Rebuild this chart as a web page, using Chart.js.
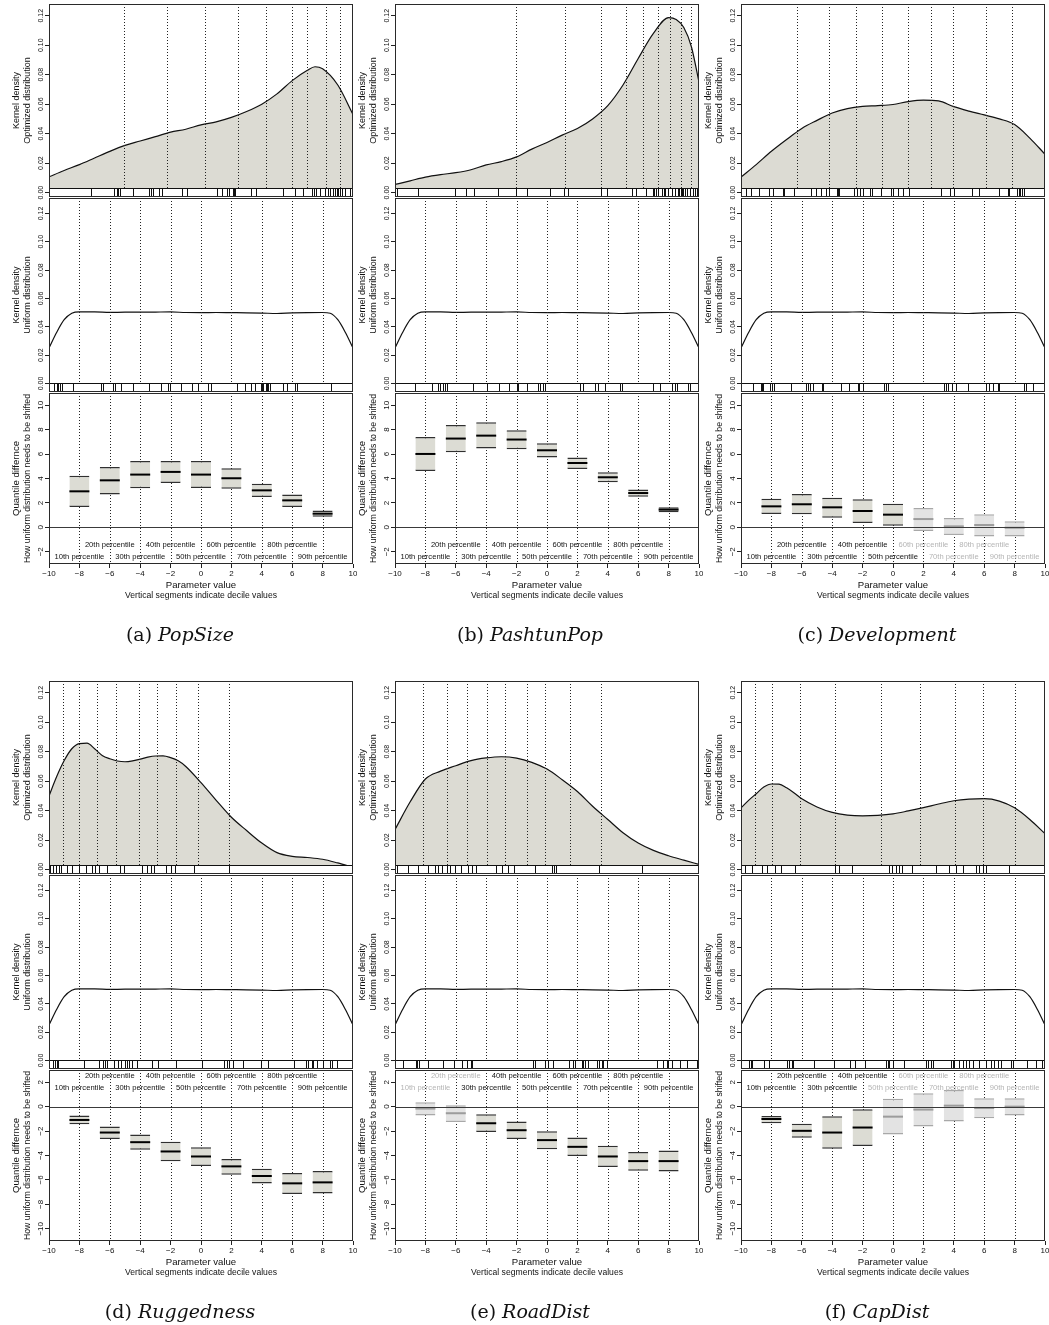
<!DOCTYPE html>
<html>
<head>
<meta charset="utf-8">
<title>Optimized vs uniform parameter distributions</title>
<script src="https://cdn.jsdelivr.net/npm/chart.js@4.4.1/dist/chart.umd.min.js"></script>
<style>
html,body{margin:0;padding:0;background:#fff;}
body{position:relative;width:1049px;height:1325px;overflow:hidden;}
canvas{position:absolute;}
.cap{position:absolute;width:340px;text-align:center;font-family:"DejaVu Serif",serif;font-size:19px;color:#111;line-height:24px;}
.cap i{font-style:italic;}
</style>
</head>
<body>
<script>
// ---------- axis ticks and labels ----------
const X_TICKS = [-10, -8, -6, -4, -2, 0, 2, 4, 6, 8, 10];
const X_TICK_LABELS = ['\u221210', '\u22128', '\u22126', '\u22124', '\u22122', '0', '2', '4', '6', '8', '10'];
const DENSITY_TICKS = [0, 0.02, 0.04, 0.06, 0.08, 0.10, 0.12];
const DENSITY_TICK_LABELS = ['0.00', '0.02', '0.04', '0.06', '0.08', '0.10', '0.12'];
const SHIFT_TICKS_UP = [-2, 0, 2, 4, 6, 8, 10];
const SHIFT_TICK_LABELS_UP = ['\u22122', '0', '2', '4', '6', '8', '10'];
const SHIFT_TICKS_DOWN = [-10, -8, -6, -4, -2, 0, 2];
const SHIFT_TICK_LABELS_DOWN = ['\u221210', '\u22128', '\u22126', '\u22124', '\u22122', '0', '2'];

// deciles of the uniform reference distribution
const UNIFORM_DECILES = [-8, -6, -4, -2, 0, 2, 4, 6, 8];
const PERCENTILE_LABELS = ['10th percentile', '20th percentile', '30th percentile', '40th percentile',
  '50th percentile', '60th percentile', '70th percentile', '80th percentile', '90th percentile'];

// kernel density of the uniform draws
const UNIFORM_DENS_X = [-10, -9.5, -9, -8.5, -8, -7, -6, -5, -4, -3, -2, -1, 0, 1, 2, 3, 4, 5, 6, 7, 8, 8.5, 9, 9.5, 10];
const UNIFORM_DENS_Y = [0.025, 0.036, 0.045, 0.0496, 0.0506, 0.0506, 0.0502, 0.0503, 0.0503, 0.0504, 0.0505, 0.0501,
  0.0500, 0.0501, 0.0500, 0.0499, 0.0497, 0.0494, 0.0498, 0.0500, 0.0501, 0.0496, 0.045, 0.036, 0.025];

// ---------- (a) PopSize ----------
const POPSIZE_DENS_X = [-10, -9, -8, -7, -6, -5, -4, -3, -2, -1, 0, 1, 2, 3, 4, 5, 6, 7, 7.5, 8, 9, 10];
const POPSIZE_DENS_Y = [0.0107, 0.015, 0.019, 0.0235, 0.028, 0.032, 0.035, 0.038, 0.041, 0.043, 0.046, 0.048,
  0.051, 0.055, 0.060, 0.067, 0.076, 0.083, 0.0854, 0.084, 0.073, 0.053];
const POPSIZE_DECILES = [-5.07, -2.26, 0.26, 2.45, 4.26, 5.97, 6.95, 8.20, 9.14];
const POPSIZE_RUG_OPT = [-7.26, -5.70, -5.54, -5.43, -5.33, -4.49, -3.42, -3.29, -3.13, -2.76, -2.58, -1.27, -0.90,
  1.08, 1.36, 1.69, 1.87, 2.13, 2.20, 2.24, 3.29, 3.62, 5.38, 6.19, 6.74, 7.33, 7.44, 7.57, 7.83, 8.16, 8.38, 8.49,
  8.71, 8.82, 8.93, 9.04, 9.15, 9.26, 9.48, 9.81, 9.92];
const POPSIZE_RUG_UNIF = [-9.65, -9.49, -9.38, -9.27, -9.16, -8.44, -6.58, -6.47, -5.76, -5.65, -5.28, -4.49, -3.42,
  -2.63, -2.15, -2.04, -1.33, -0.61, -0.22, 0.44, 0.64, 2.35, 2.90, 3.27, 3.56, 3.95, 4.04, 4.10, 4.26, 4.32, 4.43,
  4.54, 5.42, 5.68, 6.19, 6.30, 8.54, 9.92];
const POPSIZE_LO = [1.67, 2.68, 3.20, 3.63, 3.22, 3.17, 2.49, 1.67, 0.87];
const POPSIZE_MED = [2.95, 3.85, 4.32, 4.54, 4.32, 4.02, 3.03, 2.21, 1.12];
const POPSIZE_HI = [4.23, 4.95, 5.44, 5.44, 5.44, 4.84, 3.58, 2.70, 1.39];
const POPSIZE_FADED = [false, false, false, false, false, false, false, false, false];

// ---------- (b) PashtunPop ----------
const PASHTUNPOP_DENS_X = [-10, -9, -8, -7, -6, -5, -4, -3, -2, -1, 0, 1, 2, 3, 4, 5, 6, 7, 8, 8.5, 9, 9.5, 10];
const PASHTUNPOP_DENS_Y = [0.0055, 0.008, 0.0105, 0.0122, 0.0135, 0.0155, 0.0188, 0.021, 0.0242, 0.0295, 0.034,
  0.039, 0.0435, 0.050, 0.059, 0.073, 0.091, 0.108, 0.1188, 0.1175, 0.112, 0.099, 0.075];
const PASHTUNPOP_DECILES = [-2.06, 1.18, 3.53, 5.18, 6.30, 7.33, 8.09, 8.80, 9.45];
const PASHTUNPOP_RUG_OPT = [-9.89, -8.46, -6.05, -5.33, -4.80, -3.20, -2.06, -1.34, 0.20, 1.12, 1.41, 3.53, 3.93,
  3.97, 5.57, 5.86, 6.52, 6.95, 7.04, 7.17, 7.33, 7.55, 7.70, 7.77, 7.98, 8.20, 8.42, 8.64, 8.71, 8.80, 8.86, 8.93,
  9.08, 9.19, 9.41, 9.63, 9.74, 9.89];
const PASHTUNPOP_RUG_UNIF = [-8.68, -7.59, -7.15, -7.04, -6.82, -6.71, -6.55, -4.84, -3.97, -3.13, -2.48, -1.99,
  -1.93, -1.34, -0.57, -0.46, -0.28, -0.13, 2.17, 2.35, 3.16, 3.38, 3.82, 4.80, 4.91, 6.95, 7.44, 8.20, 8.42, 8.53,
  9.30, 9.41];
const PASHTUNPOP_LO = [4.62, 6.15, 6.45, 6.39, 5.71, 4.78, 3.69, 2.51, 1.23];
const PASHTUNPOP_MED = [6.01, 7.27, 7.51, 7.19, 6.31, 5.27, 4.10, 2.81, 1.45];
const PASHTUNPOP_HI = [7.40, 8.39, 8.61, 7.95, 6.89, 5.71, 4.51, 3.09, 1.64];
const PASHTUNPOP_FADED = [false, false, false, false, false, false, false, false, false];

// ---------- (c) Development ----------
const DEVELOPMENT_DENS_X = [-10, -9, -8, -7, -6, -5, -4, -3, -2, -1, 0, 1, 2, 3, 4, 5, 6, 7, 8, 9, 10];
const DEVELOPMENT_DENS_Y = [0.0105, 0.019, 0.028, 0.036, 0.0435, 0.049, 0.054, 0.057, 0.0585, 0.059, 0.0598,
  0.0618, 0.0628, 0.0622, 0.0583, 0.0553, 0.0527, 0.050, 0.0462, 0.037, 0.026];
const DEVELOPMENT_DECILES = [-6.34, -4.19, -2.43, -0.74, 0.97, 2.50, 3.97, 6.12, 7.81];
const DEVELOPMENT_RUG_OPT = [-9.67, -9.34, -8.84, -8.13, -7.87, -7.26, -7.15, -6.49, -5.39, -5.06, -4.74, -4.41,
  -4.23, -3.71, -3.64, -3.57, -2.59, -2.39, -2.15, -1.99, -1.51, -1.40, -0.79, -0.13, -0.02, 0.31, 0.64, 1.08, 3.16,
  3.75, 4.04, 5.20, 5.68, 6.99, 7.54, 7.65, 8.14, 8.27, 8.36, 8.49, 8.64];
const DEVELOPMENT_RUG_UNIF = [-9.23, -8.68, -8.62, -8.53, -8.09, -7.96, -7.81, -6.71, -5.72, -5.61, -5.44, -5.28,
  -4.67, -4.58, -3.42, -2.92, -2.32, -2.21, -1.95, -0.57, -0.46, -0.35, 3.38, 3.49, 3.60, 3.88, 4.15, 4.91, 6.12,
  6.30, 6.56, 6.93, 6.99, 8.64, 8.75, 9.19];
const DEVELOPMENT_LO = [1.09, 1.07, 0.79, 0.36, 0.14, -0.30, -0.63, -0.74, -0.74];
const DEVELOPMENT_MED = [1.72, 1.89, 1.64, 1.34, 1.04, 0.68, 0.08, 0.19, -0.03];
const DEVELOPMENT_HI = [2.35, 2.73, 2.43, 2.30, 1.94, 1.58, 0.77, 1.07, 0.49];
const DEVELOPMENT_FADED = [false, false, false, false, false, true, true, true, true];

// ---------- (d) Ruggedness ----------
const RUGGEDNESS_DENS_X = [-10, -9.5, -9, -8.5, -8, -7.5, -7, -6.5, -6, -5.5, -5, -4.5, -4, -3.5, -3, -2.5, -2, -1.5,
  -1, 0, 1, 2, 3, 4, 5, 6, 7, 8, 9, 10];
const RUGGEDNESS_DENS_Y = [0.050, 0.063, 0.074, 0.082, 0.0855, 0.0858, 0.082, 0.0775, 0.0752, 0.0737, 0.0732, 0.0738,
  0.0750, 0.0763, 0.0771, 0.0772, 0.0760, 0.0738, 0.070, 0.059, 0.047, 0.0355, 0.0265, 0.018, 0.0115, 0.009, 0.0082,
  0.007, 0.0045, 0.0016];
const RUGGEDNESS_DECILES = [-9.05, -8.03, -6.84, -5.61, -4.07, -2.88, -1.65, -0.20, 1.87];
const RUGGEDNESS_RUG_OPT = [-9.92, -9.74, -9.54, -9.34, -9.18, -8.82, -8.47, -8.03, -7.59, -7.15, -6.97, -6.71,
  -6.18, -5.30, -5.09, -3.85, -3.54, -3.32, -3.11, -2.31, -2.00, -1.69, -0.46, 1.87];
const RUGGEDNESS_RUG_UNIF = [-9.71, -9.60, -9.49, -9.38, -7.69, -6.69, -6.47, -6.31, -6.16, -5.70, -5.43, -5.28,
  -5.00, -4.89, -4.71, -4.56, -4.19, -3.24, -2.80, -1.66, 0.05, 1.52, 1.69, 1.87, 2.13, 2.79, 3.95, 4.43, 6.12, 6.89,
  7.06, 7.28, 7.39, 7.61, 8.01, 8.49, 8.60, 8.93, 9.92];
const RUGGEDNESS_LO = [-1.44, -2.64, -3.53, -4.48, -4.86, -5.57, -6.30, -7.15, -7.12];
const RUGGEDNESS_MED = [-1.09, -2.12, -2.91, -3.67, -4.08, -4.89, -5.68, -6.28, -6.20];
const RUGGEDNESS_HI = [-0.73, -1.63, -2.28, -2.88, -3.32, -4.29, -5.08, -5.43, -5.27];
const RUGGEDNESS_FADED = [false, false, false, false, false, false, false, false, false];

// ---------- (e) RoadDist ----------
const ROADDIST_DENS_X = [-10, -9, -8, -7, -6, -5, -4, -3, -2, -1, 0, 1, 2, 3, 4, 5, 6, 7, 8, 9, 10];
const ROADDIST_DENS_Y = [0.0272, 0.046, 0.0615, 0.0668, 0.0705, 0.074, 0.0758, 0.0766, 0.0757, 0.0728, 0.0682,
  0.061, 0.053, 0.043, 0.034, 0.025, 0.018, 0.013, 0.0094, 0.0064, 0.0035];
const ROADDIST_DECILES = [-8.18, -6.59, -5.27, -3.95, -2.76, -1.31, -0.12, 1.51, 3.53];
const ROADDIST_RUG_OPT = [-9.89, -9.14, -8.49, -7.83, -7.38, -7.17, -6.94, -6.59, -6.41, -6.07, -5.63, -5.18, -4.96,
  -4.65, -3.34, -2.98, -2.54, -2.19, -0.78, 0.32, 0.45, 0.62, 3.40, 6.26, 9.95];
const ROADDIST_RUG_UNIF = [-9.45, -8.62, -8.53, -8.40, -7.80, -6.82, -6.09, -5.61, -5.28, -5.02, -4.95, -0.90, -0.79,
  -0.13, 0.09, 0.42, 1.47, 1.74, 1.84, 2.28, 2.39, 2.50, 2.72, 3.31, 3.45, 3.60, 3.71, 3.93, 7.22, 7.66, 7.88, 7.99,
  8.20, 8.75, 9.19, 9.89];
const ROADDIST_LO = [-0.73, -1.25, -2.07, -2.64, -3.48, -4.05, -4.95, -5.24, -5.30];
const ROADDIST_MED = [-0.16, -0.54, -1.36, -1.93, -2.74, -3.29, -4.08, -4.46, -4.46];
const ROADDIST_HI = [0.35, 0.11, -0.63, -1.22, -2.01, -2.53, -3.21, -3.72, -3.59];
const ROADDIST_FADED = [true, true, false, false, false, false, false, false, false];

// ---------- (f) CapDist ----------
const CAPDIST_DENS_X = [-10, -9.5, -9, -8.5, -8, -7.5, -7, -6.5, -6, -5, -4, -3, -2, -1, 0, 1, 2, 3, 4, 5, 6, 7, 8, 9, 10];
const CAPDIST_DENS_Y = [0.0419, 0.047, 0.0515, 0.056, 0.0581, 0.058, 0.0555, 0.052, 0.048, 0.0425, 0.0388, 0.037,
  0.0365, 0.0368, 0.0378, 0.0398, 0.042, 0.0445, 0.0467, 0.0478, 0.0481, 0.0465, 0.0419, 0.034, 0.0244];
const CAPDIST_DECILES = [-9.07, -7.97, -6.12, -3.79, -0.80, 1.76, 4.05, 5.90, 8.01];
const CAPDIST_RUG_OPT = [-9.73, -9.29, -8.63, -8.28, -7.75, -7.39, -6.43, -3.79, -3.57, -2.70, -0.27, -0.04, 0.18,
  0.40, 0.62, 1.28, 2.82, 3.70, 4.14, 4.58, 5.46, 5.68, 5.90, 6.12, 7.66];
const CAPDIST_RUG_UNIF = [-9.45, -9.34, -9.28, -8.46, -8.13, -6.99, -6.82, -6.64, -6.56, -5.17, -3.86, -2.83, -2.48,
  -1.82, -0.46, -0.35, -0.24, 0.02, 0.75, 2.17, 2.28, 2.50, 2.61, 3.82, 3.93, 4.04, 4.37, 4.58, 4.80, 5.02, 5.29,
  5.68, 6.12, 6.45, 6.67, 6.89, 7.11, 7.76, 7.87, 8.82, 9.41, 9.80];
const CAPDIST_LO = [-1.36, -2.55, -3.45, -3.23, -2.28, -1.63, -1.22, -0.95, -0.73];
const CAPDIST_MED = [-1.01, -1.98, -2.12, -1.71, -0.82, -0.24, 0.08, -0.11, 0.0];
const CAPDIST_HI = [-0.76, -1.41, -0.79, -0.22, 0.65, 1.09, 1.36, 0.68, 0.68];
const CAPDIST_FADED = [false, false, false, false, true, true, true, true, true];

const PANELS = [
  {tag: '(a)', name: 'PopSize', densX: POPSIZE_DENS_X, densY: POPSIZE_DENS_Y, deciles: POPSIZE_DECILES,
    rugOpt: POPSIZE_RUG_OPT, rugUnif: POPSIZE_RUG_UNIF, lo: POPSIZE_LO, med: POPSIZE_MED, hi: POPSIZE_HI, faded: POPSIZE_FADED},
  {tag: '(b)', name: 'PashtunPop', densX: PASHTUNPOP_DENS_X, densY: PASHTUNPOP_DENS_Y, deciles: PASHTUNPOP_DECILES,
    rugOpt: PASHTUNPOP_RUG_OPT, rugUnif: PASHTUNPOP_RUG_UNIF, lo: PASHTUNPOP_LO, med: PASHTUNPOP_MED, hi: PASHTUNPOP_HI, faded: PASHTUNPOP_FADED},
  {tag: '(c)', name: 'Development', densX: DEVELOPMENT_DENS_X, densY: DEVELOPMENT_DENS_Y, deciles: DEVELOPMENT_DECILES,
    rugOpt: DEVELOPMENT_RUG_OPT, rugUnif: DEVELOPMENT_RUG_UNIF, lo: DEVELOPMENT_LO, med: DEVELOPMENT_MED, hi: DEVELOPMENT_HI, faded: DEVELOPMENT_FADED},
  {tag: '(d)', name: 'Ruggedness', densX: RUGGEDNESS_DENS_X, densY: RUGGEDNESS_DENS_Y, deciles: RUGGEDNESS_DECILES,
    rugOpt: RUGGEDNESS_RUG_OPT, rugUnif: RUGGEDNESS_RUG_UNIF, lo: RUGGEDNESS_LO, med: RUGGEDNESS_MED, hi: RUGGEDNESS_HI, faded: RUGGEDNESS_FADED},
  {tag: '(e)', name: 'RoadDist', densX: ROADDIST_DENS_X, densY: ROADDIST_DENS_Y, deciles: ROADDIST_DECILES,
    rugOpt: ROADDIST_RUG_OPT, rugUnif: ROADDIST_RUG_UNIF, lo: ROADDIST_LO, med: ROADDIST_MED, hi: ROADDIST_HI, faded: ROADDIST_FADED},
  {tag: '(f)', name: 'CapDist', densX: CAPDIST_DENS_X, densY: CAPDIST_DENS_Y, deciles: CAPDIST_DECILES,
    rugOpt: CAPDIST_RUG_OPT, rugUnif: CAPDIST_RUG_UNIF, lo: CAPDIST_LO, med: CAPDIST_MED, hi: CAPDIST_HI, faded: CAPDIST_FADED}
];

// ---------- layout and style ----------
const FONT = '"Liberation Sans", Arial, Helvetica, sans-serif';
const ROW_TOP = [0, 677];
const CANVAS_LEFT = [0, 346, 692];
const AXIS_W = 49, PLOT_W = 304, RIGHT_PAD = 4;
const CANVAS_W = AXIS_W + PLOT_W + RIGHT_PAD;
const SHIFT_RANGE = [[-3, 11], [-11, 3]];
const SHIFT_TICKS = [SHIFT_TICKS_UP, SHIFT_TICKS_DOWN];
const SHIFT_TICK_LABELS = [SHIFT_TICK_LABELS_UP, SHIFT_TICK_LABELS_DOWN];
const LABEL_ROW_Y = [[-1.42, -2.42], [2.53, 1.55]];   // [upper row, lower row] in quantile units
const CAPTION_X = [180, 530, 877];
const CAPTION_Y = [634, 1311];

const C = {
  ink: '#111111', frame: '#2a2a2a', dens: '#dcdbd3', box: '#dcdcd4', boxEdge: '#303030',
  fadedFill: '#e3e3e3', fadedEdge: '#a8a8a8', fadedMed: '#9c9c9c', fadedText: '#b4b4b4'
};

function dotted(ctx, xs, values, top, bottom) {
  ctx.save();
  ctx.strokeStyle = '#222';
  ctx.lineWidth = 1;
  ctx.setLineDash([1, 2]);
  values.forEach(v => {
    const px = Math.round(xs.getPixelForValue(v)) + 0.5;
    ctx.beginPath(); ctx.moveTo(px, top); ctx.lineTo(px, bottom); ctx.stroke();
  });
  ctx.restore();
}

function decor(cfg) {
  return {
    id: 'decor',
    beforeDatasetsDraw(chart) {
      if (cfg.kind !== 'shift') return;
      const {ctx, chartArea: a, scales: {x}} = chart;
      dotted(ctx, x, UNIFORM_DECILES, a.top, a.bottom);
    },
    afterDatasetsDraw(chart) {
      const {ctx, chartArea: a, scales: {x, y}} = chart;
      ctx.save();
      if (cfg.kind === 'shift') {
        // zero reference
        const y0 = Math.round(y.getPixelForValue(0)) + 0.5;
        ctx.strokeStyle = '#3a3a3a'; ctx.lineWidth = 1.2;
        ctx.beginPath(); ctx.moveTo(a.left, y0); ctx.lineTo(a.right, y0); ctx.stroke();
        // percentile labels, staggered in two rows
        ctx.font = `7.6px ${FONT}`; ctx.textAlign = 'center'; ctx.textBaseline = 'middle';
        PERCENTILE_LABELS.forEach((t, i) => {
          const rowVal = i % 2 === 0 ? cfg.labelY[1] : cfg.labelY[0];
          ctx.fillStyle = cfg.faded[i] ? C.fadedText : C.ink;
          ctx.fillText(t, x.getPixelForValue(UNIFORM_DECILES[i]), y.getPixelForValue(rowVal));
        });
        // x tick labels
        ctx.fillStyle = C.ink;
        ctx.font = `8px ${FONT}`;
        X_TICKS.forEach((v, i) => ctx.fillText(X_TICK_LABELS[i], x.getPixelForValue(v), a.bottom + 10));
      } else {
        const bandTop = a.bottom - cfg.band;
        dotted(ctx, x, cfg.deciles, a.top, bandTop);
        ctx.fillStyle = '#fff';
        ctx.fillRect(a.left, bandTop, a.width, cfg.band);
        ctx.strokeStyle = '#111'; ctx.lineWidth = 1;
        ctx.beginPath(); ctx.moveTo(a.left, bandTop + 0.5); ctx.lineTo(a.right, bandTop + 0.5); ctx.stroke();
        // rug of sampled values
        cfg.rug.forEach(v => {
          const px = Math.round(x.getPixelForValue(v)) + 0.5;
          ctx.beginPath(); ctx.moveTo(px, bandTop + 1); ctx.lineTo(px, a.bottom); ctx.stroke();
        });
      }
      // frame
      ctx.strokeStyle = C.frame; ctx.lineWidth = 1;
      ctx.strokeRect(a.left + 0.5, a.top + 0.5, a.width - 1, a.height - 1);
      // rotated y tick labels
      ctx.fillStyle = C.ink;
      ctx.font = `${cfg.tickSize}px ${FONT}`;
      ctx.textAlign = 'center'; ctx.textBaseline = 'alphabetic';
      cfg.yTicks.forEach((v, i) => {
        ctx.save();
        ctx.translate(a.left - 6, y.getPixelForValue(v));
        ctx.rotate(-Math.PI / 2);
        ctx.fillText(cfg.yTickLabels[i], 0, 0);
        ctx.restore();
      });
      // y titles
      const cy = (a.top + a.bottom) / 2;
      ctx.textBaseline = 'middle';
      cfg.yTitle.forEach((t, i) => {
        ctx.save();
        ctx.font = `${cfg.titleSize[i]}px ${FONT}`;
        ctx.translate(a.left + (i === 0 ? -32.5 : -21), cy);
        ctx.rotate(-Math.PI / 2);
        ctx.fillText(t, 0, 0);
        ctx.restore();
      });
      if (cfg.kind === 'shift') {
        const cx = (a.left + a.right) / 2;
        ctx.textAlign = 'center';
        ctx.font = `9.6px ${FONT}`;
        ctx.fillText('Parameter value', cx, a.bottom + 21);
        ctx.font = `8.6px ${FONT}`;
        ctx.fillText('Vertical segments indicate decile values', cx, a.bottom + 32);
      }
      ctx.restore();
    }
  };
}

function makeCanvas(left, top, w, h) {
  const c = document.createElement('canvas');
  c.width = w; c.height = h;
  c.style.left = left + 'px'; c.style.top = top + 'px';
  c.style.width = w + 'px'; c.style.height = h + 'px';
  document.body.appendChild(c);
  return c;
}

function yScale(min, max, ticks) {
  return {
    type: 'linear', min, max,
    afterBuildTicks: s => { s.ticks = ticks.map(v => ({value: v})); },
    afterFit: s => { s.width = AXIS_W; s.paddingTop = 0; s.paddingBottom = 0; },
    ticks: {display: false},
    grid: {drawOnChartArea: false, drawTicks: true, tickLength: 4, color: '#222', lineWidth: 1},
    border: {display: false}
  };
}

function xScale(withTicks) {
  return {
    type: 'linear', min: -10, max: 10, offset: false, display: withTicks,
    afterBuildTicks: s => { s.ticks = X_TICKS.map(v => ({value: v})); },
    afterFit: s => { s.height = withTicks ? 14 : 0; s.paddingLeft = 0; s.paddingRight = 0; },
    ticks: {display: false},
    grid: {drawOnChartArea: false, drawTicks: true, tickLength: 4, color: '#222', offset: false},
    border: {display: false}
  };
}

const BASE = {
  responsive: false, animation: false, events: [], devicePixelRatio: 1,
  plugins: {legend: {display: false}, tooltip: {enabled: false}}
};

function layoutPad(top, bottom) {
  return {autoPadding: false, padding: {left: 0, right: RIGHT_PAD, top, bottom}};
}

PANELS.forEach((p, idx) => {
  const row = Math.floor(idx / 3), col = idx % 3;
  const top0 = ROW_TOP[row], left0 = CANVAS_LEFT[col];

  // optimized distribution density
  new Chart(makeCanvas(left0, top0, CANVAS_W, 200), {
    type: 'line',
    data: {datasets: [{
      data: p.densX.map((x, i) => ({x, y: p.densY[i]})),
      borderColor: '#111', borderWidth: 1.2, backgroundColor: C.dens, fill: 'origin',
      pointRadius: 0, cubicInterpolationMode: 'monotone'
    }]},
    options: Object.assign({}, BASE, {
      layout: layoutPad(4, 3),
      scales: {x: xScale(false), y: yScale(-0.003, 0.128, DENSITY_TICKS)}
    }),
    plugins: [decor({kind: 'dens', band: 9, deciles: p.deciles, rug: p.rugOpt, yTicks: DENSITY_TICKS,
      yTickLabels: DENSITY_TICK_LABELS, tickSize: 7, yTitle: ['Kernel density', 'Optimized distribution'], titleSize: [9, 9]})]
  });

  // uniform distribution density
  new Chart(makeCanvas(left0, top0 + 196, CANVAS_W, 198), {
    type: 'line',
    data: {datasets: [{
      data: UNIFORM_DENS_X.map((x, i) => ({x, y: UNIFORM_DENS_Y[i]})),
      borderColor: '#111', borderWidth: 1.2, fill: false,
      pointRadius: 0, cubicInterpolationMode: 'monotone'
    }]},
    options: Object.assign({}, BASE, {
      layout: layoutPad(2, 2),
      scales: {x: xScale(false), y: yScale(-0.006, 0.1309, DENSITY_TICKS)}
    }),
    plugins: [decor({kind: 'dens', band: 9, deciles: UNIFORM_DECILES, rug: p.rugUnif, yTicks: DENSITY_TICKS,
      yTickLabels: DENSITY_TICK_LABELS, tickSize: 7, yTitle: ['Kernel density', 'Uniform distribution'], titleSize: [9, 9]})]
  });

  // quantile shift boxes
  new Chart(makeCanvas(left0, top0 + 390, CANVAS_W, 220), {
    type: 'bar',
    data: {datasets: [
      {
        type: 'line', order: 1,
        data: p.med.map((v, i) => ({x: UNIFORM_DECILES[i], y: v})),
        showLine: false, pointStyle: 'line', pointRadius: 10, pointBorderWidth: 2,
        pointBorderColor: p.faded.map(f => f ? C.fadedMed : '#000'),
        pointBackgroundColor: p.faded.map(f => f ? C.fadedMed : '#000')
      },
      {
        type: 'bar', order: 2,
        data: p.lo.map((v, i) => ({x: UNIFORM_DECILES[i], y: [v, p.hi[i]]})),
        backgroundColor: p.faded.map(f => f ? C.fadedFill : C.box),
        borderColor: p.faded.map(f => f ? C.fadedEdge : C.boxEdge),
        borderWidth: {top: 1.5, bottom: 1.5, left: 0, right: 0},
        borderSkipped: false, barThickness: 20, inflateAmount: 0
      }
    ]},
    options: Object.assign({}, BASE, {
      layout: layoutPad(3, 32),
      scales: {
        x: xScale(true),
        y: yScale(SHIFT_RANGE[row][0], SHIFT_RANGE[row][1], SHIFT_TICKS[row])
      }
    }),
    plugins: [decor({kind: 'shift', faded: p.faded, labelY: LABEL_ROW_Y[row], yTicks: SHIFT_TICKS[row],
      yTickLabels: SHIFT_TICK_LABELS[row], tickSize: 8,
      yTitle: ['Quantile differnce', 'How uniform distribution needs to be shifted'], titleSize: [9.6, 8.7]})]
  });

  // caption
  const cap = document.createElement('div');
  cap.className = 'cap';
  cap.style.left = (CAPTION_X[col] - 170) + 'px';
  cap.style.top = (CAPTION_Y[row] - 12) + 'px';
  cap.innerHTML = p.tag + ' <i>' + p.name + '</i>';
  document.body.appendChild(cap);
});
</script>
</body>
</html>
